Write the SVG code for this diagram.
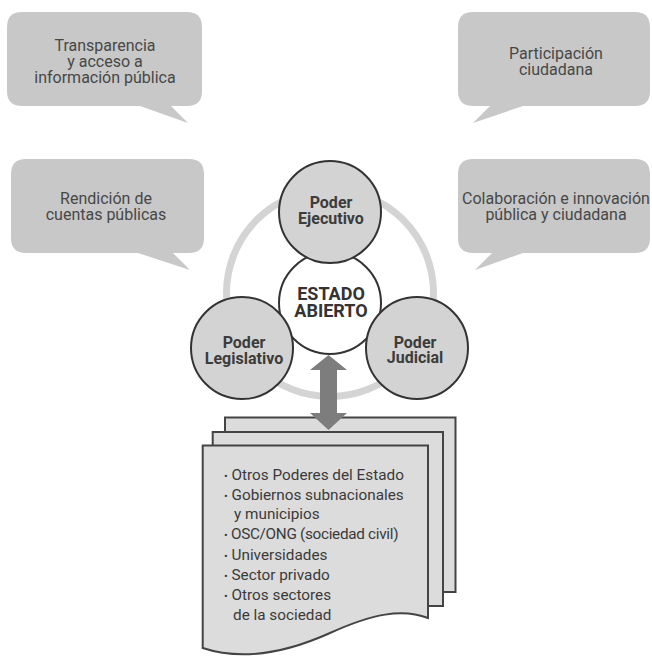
<svg xmlns="http://www.w3.org/2000/svg" width="652" height="657" viewBox="0 0 652 657">
<style>
.bub{fill:#c8c8c8;}
.bt{font-family:Roboto,"Liberation Sans",sans-serif;font-size:16px;fill:#474747;text-anchor:middle;}
.pod{fill:#d3d3d3;stroke:#333;stroke-width:2;}
.pt{font-family:Roboto,"Liberation Sans",sans-serif;font-size:16px;font-weight:bold;fill:#3c3c3c;text-anchor:middle;}
.et{font-family:Roboto,"Liberation Sans",sans-serif;font-size:18px;font-weight:bold;fill:#333;text-anchor:middle;}
.page{fill:#dcdcdc;stroke:#444;stroke-width:2;}
.lt{font-family:Roboto,"Liberation Sans",sans-serif;font-size:15.3px;fill:#3a3a3a;}
.bl{font-size:11px;}
</style>
<rect width="652" height="657" fill="#fff"/>
<g id="bubble-transparencia">
<path class="bub" d="M22 12H187Q202 12 202 27V91Q202 106 187 106H171L188 123L140 106H22Q7 106 7 91V27Q7 12 22 12Z"/>
<text class="bt" x="105" y="51">Transparencia</text>
<text class="bt" x="105" y="67">y acceso a</text>
<text class="bt" x="105" y="83">información pública</text>
</g>
<g id="bubble-rendicion">
<path class="bub" d="M26 159H189Q204 159 204 174V238Q204 253 189 253H173L190 270L138 253H26Q11 253 11 238V174Q11 159 26 159Z"/>
<text class="bt" x="106" y="204">Rendición de</text>
<text class="bt" x="106" y="220">cuentas públicas</text>
</g>
<g id="bubble-participacion">
<path class="bub" d="M473 12H635Q650 12 650 27V91Q650 106 635 106H523L473 123L490 106H473Q458 106 458 91V27Q458 12 473 12Z"/>
<text class="bt" x="556" y="59">Participación</text>
<text class="bt" x="556" y="75">ciudadana</text>
</g>
<g id="bubble-colaboracion">
<path class="bub" d="M473 159H635Q650 159 650 174V238Q650 253 635 253H523L475 270L492 253H473Q458 253 458 238V174Q458 159 473 159Z"/>
<text class="bt" x="556" y="204">Colaboración e innovación</text>
<text class="bt" x="556" y="220">pública y ciudadana</text>
</g>
<g id="ring">
<circle cx="330" cy="293" r="103.5" fill="none" stroke="#d4d4d4" stroke-width="7"/>
</g>
<g id="estado-abierto">
<circle cx="330" cy="303" r="51" fill="#fff" stroke="#333" stroke-width="2"/>
<text class="et" x="331" y="300">ESTADO</text>
<text class="et" x="331" y="317">ABIERTO</text>
</g>
<g id="poder-ejecutivo">
<circle class="pod" cx="330" cy="212" r="51"/>
<text class="pt" x="331" y="208">Poder</text>
<text class="pt" x="331" y="224">Ejecutivo</text>
</g>
<g id="poder-legislativo">
<circle class="pod" cx="242" cy="348" r="51"/>
<text class="pt" x="244" y="348">Poder</text>
<text class="pt" x="244" y="364">Legislativo</text>
</g>
<g id="poder-judicial">
<circle class="pod" cx="417" cy="348" r="51"/>
<text class="pt" x="415" y="348">Poder</text>
<text class="pt" x="415" y="363">Judicial</text>
</g>
<g id="actores">
<rect class="page" x="225" y="417.5" width="230.5" height="174.5"/>
<rect class="page" x="212.7" y="432" width="230.3" height="174"/>
<path class="page" d="M202.7 445.5H428V618C402 608 372 614 330 633C290 651 245 662 202.7 648Z"/>
<text class="lt" x="224" y="480"><tspan class="bl">•</tspan> Otros Poderes del Estado</text>
<text class="lt" x="224" y="500"><tspan class="bl">•</tspan> Gobiernos subnacionales</text>
<text class="lt" x="234" y="519">y municipios</text>
<text class="lt" x="224" y="539" letter-spacing="-0.3"><tspan class="bl">•</tspan> OSC/ONG (sociedad civil)</text>
<text class="lt" x="224" y="560"><tspan class="bl">•</tspan> Universidades</text>
<text class="lt" x="224" y="580"><tspan class="bl">•</tspan> Sector privado</text>
<text class="lt" x="224" y="600"><tspan class="bl">•</tspan> Otros sectores</text>
<text class="lt" x="233" y="620">de la sociedad</text>
</g>
<g id="connectors">
<path d="M328.5 355L347 370H337V413H347L328.5 430L310 413H320V370H310Z" fill="#7d7d7d"/>
</g>
</svg>
